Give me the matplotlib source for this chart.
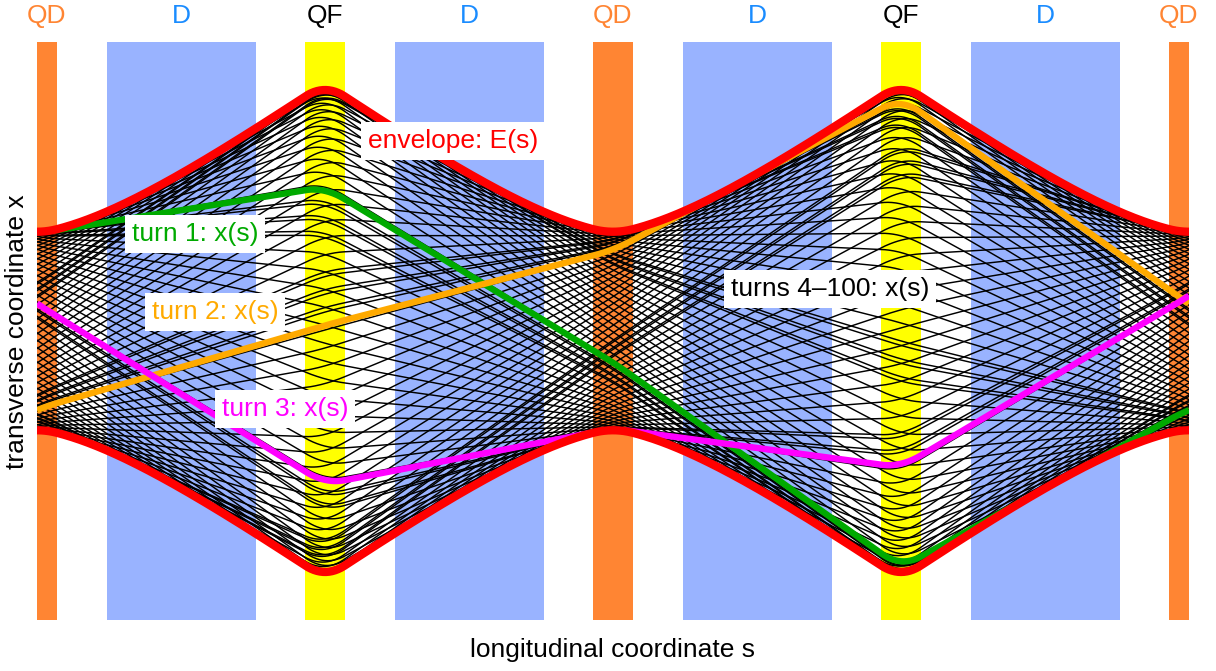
import matplotlib

matplotlib.use("Agg")
import matplotlib.pyplot as plt
import matplotlib.transforms as mtransforms
import numpy as np

# One turn = two FODO cells, s measured from the centre of the first QD.
ELEMENT_EDGES = [0, 20, 268, 308, 556, 596, 844, 884, 1132, 1152]
ELEMENT_KINDS = ["QD", "O", "QF", "O", "QD", "O", "QF", "O", "QD"]
DIPOLE_LENGTH = 149

# quadrupole strengths (k > 0 focusing) and starting point of turn 1
K_QF = 1.386e-4
K_QD = 8.218e-5
X0 = 99.25
XP0 = -0.00277
N_TURNS = 100

KIND_LABELS = {"QD": "QD", "O": "D", "QF": "QF"}
LABEL_COLORS = {"QD": "#ff8533", "O": "#1a8cff", "QF": "#000000"}
BAR_COLORS = {"QD": "#ff8533", "O": "#99b3ff", "QF": "#ffff00"}

TURN_COLORS = ["#00aa00", "#ffaa00", "#ff00ff"]
TURN_LABELS = ["turn 1: x(s)", "turn 2: x(s)", "turn 3: x(s)"]
TURN_LABEL_POS = [(158, 97), (178, 19), (248, -78)]
REST_LABEL = "turns 4\u2013100: x(s)"
REST_LABEL_POS = (793, 42)
ENVELOPE_LABEL = "envelope: E(s)"
ENVELOPE_LABEL_POS = (416, 190)

FONT = ["Liberation Sans", "DejaVu Sans"]
FONT_SIZE = 19


def _element_matrix(kind: str, length: float) -> np.ndarray:
    if kind == "QF":
        w = np.sqrt(K_QF)
        return np.array([[np.cos(w * length), np.sin(w * length) / w],
                         [-w * np.sin(w * length), np.cos(w * length)]])
    if kind == "QD":
        w = np.sqrt(K_QD)
        return np.array([[np.cosh(w * length), np.sinh(w * length) / w],
                         [w * np.sinh(w * length), np.cosh(w * length)]])
    return np.array([[1.0, length], [0.0, 1.0]])


def _transfer_to(s: float) -> np.ndarray:
    matrix = np.eye(2)
    for index, kind in enumerate(ELEMENT_KINDS):
        start, end = ELEMENT_EDGES[index], ELEMENT_EDGES[index + 1]
        if s <= start:
            break
        matrix = _element_matrix(kind, min(s, end) - start) @ matrix
    return matrix


def main() -> None:
    s_grid = np.linspace(ELEMENT_EDGES[0], ELEMENT_EDGES[-1], 1153)
    matrices = np.array([_transfer_to(s) for s in s_grid])
    one_turn = matrices[-1]

    # Twiss functions along the ring give the envelope of the invariant
    cos_mu = np.trace(one_turn) / 2
    sin_mu = np.sign(one_turn[0, 1]) * np.sqrt(1 - cos_mu**2)
    beta = np.array([(m @ one_turn @ np.linalg.inv(m))[0, 1] / sin_mu for m in matrices])
    beta0 = one_turn[0, 1] / sin_mu
    alpha0 = (one_turn[0, 0] - one_turn[1, 1]) / (2 * sin_mu)
    gamma0 = (1 + alpha0**2) / beta0
    invariant = gamma0 * X0**2 + 2 * alpha0 * X0 * XP0 + beta0 * XP0**2
    envelope = np.sqrt(invariant * beta)

    figure = plt.figure(figsize=(12.16, 6.71), dpi=100)
    axis = figure.add_axes([37 / 1216, 51 / 671, 1152 / 1216, 578 / 671])
    axis.set_xlim(ELEMENT_EDGES[0], ELEMENT_EDGES[-1])
    axis.set_ylim(-289, 289)
    axis.axis("off")

    label_transform = mtransforms.blended_transform_factory(axis.transData, figure.transFigure)
    for index, kind in enumerate(ELEMENT_KINDS):
        start, end = ELEMENT_EDGES[index], ELEMENT_EDGES[index + 1]
        if kind == "O":
            middle = (start + end) / 2
            start, end = middle - DIPOLE_LENGTH / 2, middle + DIPOLE_LENGTH / 2
        axis.axvspan(start, end, color=BAR_COLORS[kind], lw=0, zorder=0)
        axis.text((start + end) / 2, 1 - 16 / 671, KIND_LABELS[kind], transform=label_transform,
                  ha="center", va="center", fontsize=FONT_SIZE, family=FONT,
                  color=LABEL_COLORS[kind])

    state = np.array([X0, XP0])
    for turn in range(N_TURNS):
        x = matrices[:, 0, 0] * state[0] + matrices[:, 0, 1] * state[1]
        if turn < len(TURN_COLORS):
            axis.plot(s_grid, x, color=TURN_COLORS[turn], lw=4.6, zorder=4,
                      solid_capstyle="butt")
        else:
            axis.plot(s_grid, x, color="black", lw=1.05, zorder=1)
        state = one_turn @ state

    axis.plot(s_grid, envelope, color="#ff0000", lw=6, zorder=5, solid_capstyle="butt")
    axis.plot(s_grid, -envelope, color="#ff0000", lw=6, zorder=5, solid_capstyle="butt")

    # white label boxes sit on top of every curve
    box = dict(boxstyle="square,pad=0.25", facecolor="white", edgecolor="none")
    for text, position, color in zip(TURN_LABELS, TURN_LABEL_POS, TURN_COLORS):
        axis.text(*position, text, ha="center", va="center", fontsize=FONT_SIZE,
                  family=FONT, color=color, bbox=box, zorder=6)
    axis.text(*REST_LABEL_POS, REST_LABEL, ha="center", va="center", fontsize=FONT_SIZE,
              family=FONT, color="black", bbox=box, zorder=6)
    axis.text(*ENVELOPE_LABEL_POS, ENVELOPE_LABEL, ha="center", va="center",
              fontsize=FONT_SIZE, family=FONT, color="#ff0000", bbox=box, zorder=6)

    figure.text(612 / 1216, 1 - 650 / 671, "longitudinal coordinate s", ha="center",
                va="center", fontsize=FONT_SIZE, family=FONT)
    figure.text(17 / 1216, 1 - 332 / 671, "transverse coordinate x", ha="center",
                va="center", rotation=90, fontsize=FONT_SIZE, family=FONT)

    figure.savefig("out.png", dpi=100)
    plt.close(figure)


if __name__ == "__main__":
    main()
